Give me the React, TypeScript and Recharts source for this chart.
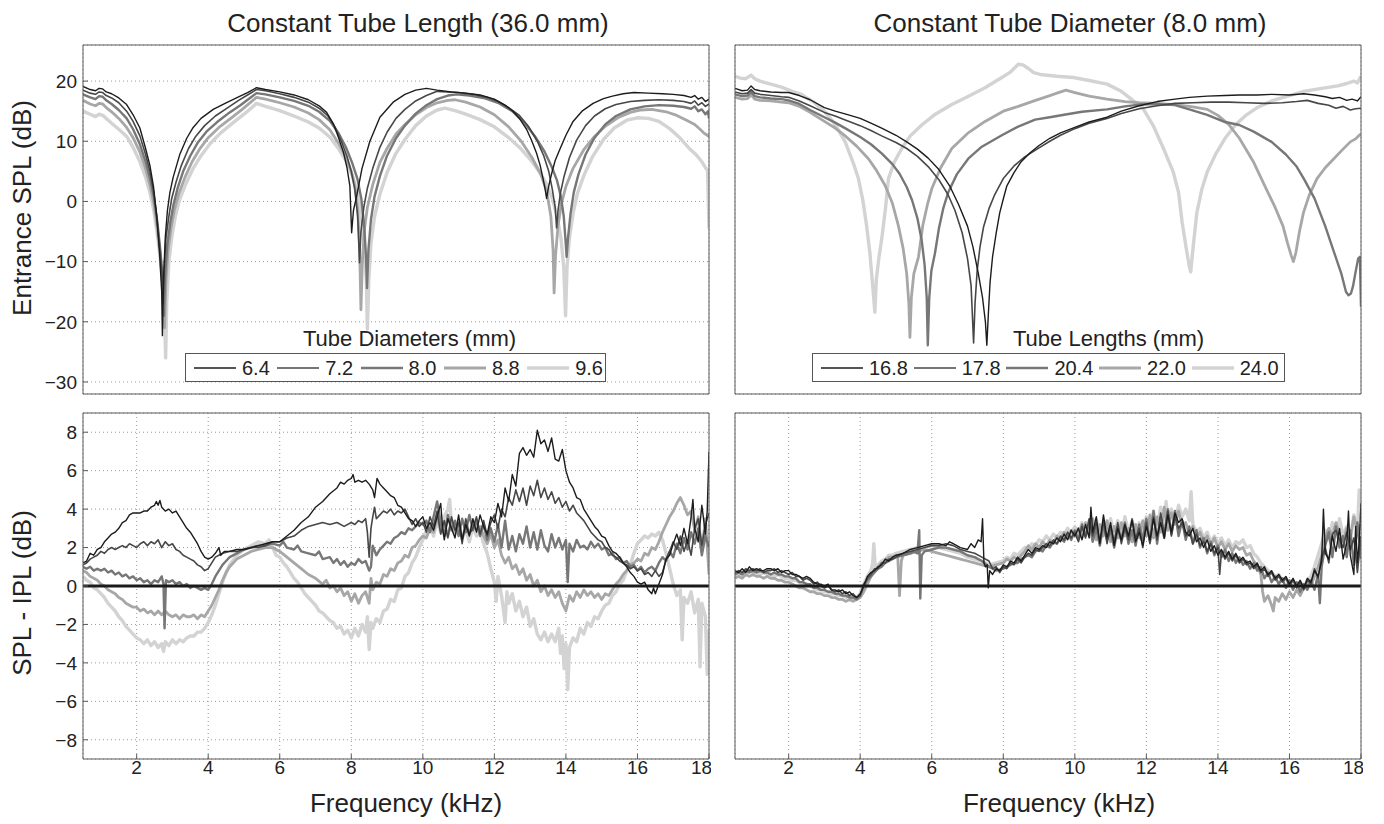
import React from "react";
import { LineChart, Line, XAxis, YAxis, CartesianGrid, ReferenceLine } from "recharts";

type Pt = [number, number];

// axis ticks
const freqTicks = [2, 4, 6, 8, 10, 12, 14, 16, 18];
const splTicks = [-30, -20, -10, 0, 10, 20];
const diffTicks = [-8, -6, -4, -2, 0, 2, 4, 6, 8];

// legend entries
const diameterLabels = ["6.4", "7.2", "8.0", "8.8", "9.6"];
const lengthLabels = ["16.8", "17.8", "20.4", "22.0", "24.0"];

// series styles, darkest to lightest
const lineColors = ["#1c1c1c", "#474747", "#777777", "#a7a7a7", "#d3d3d3"];
const lineWidths = [1.4, 1.6, 2.4, 2.8, 3.4];

// ---- entrance SPL, constant tube length (36.0 mm) ----
const dia64Spl: Pt[] = [[0.5,19.1],[0.7,18.6],[0.85,18.4],[0.95,18.8],[1.05,18.7],[1.15,18.2],[1.3,17.9],[1.5,17.2],[1.72,16.1],[1.9,14.4],[2.09,12.2],[2.25,8.8],[2.37,6.0],[2.47,2.5],[2.56,-2.4],[2.64,-8.5],[2.7,-15],[2.72,-22.3],[2.75,-13],[2.8,-6],[2.86,-1.5],[2.93,1.5],[3.02,4.0],[3.21,7.9],[3.4,10.5],[3.58,12.3],[3.8,13.8],[4.14,15.3],[4.5,16.4],[4.79,17.2],[5.1,18.1],[5.35,18.9],[5.6,18.6],[6.0,18.2],[6.4,17.7],[6.8,16.9],[7.1,15.9],[7.31,14.8],[7.5,12.9],[7.65,10.5],[7.78,8.2],[7.88,5.6],[7.96,2.6],[8.01,-5.2],[8.06,-1.5],[8.15,0.9],[8.3,5.5],[8.52,10.0],[8.8,14.0],[9.17,16.5],[9.5,17.8],[9.8,18.5],[10.1,18.8],[10.4,18.5],[10.8,18.2],[11.2,18.0],[11.6,17.7],[12.0,17.0],[12.3,16.0],[12.52,15.0],[12.7,13.8],[12.9,12.0],[13.05,10.0],[13.18,8.0],[13.28,6.0],[13.36,3.8],[13.42,2.0],[13.46,0.5],[13.52,2.6],[13.6,4.6],[13.7,6.8],[13.84,8.8],[14.0,11.0],[14.2,13.3],[14.45,15.0],[14.76,16.3],[15.05,17.1],[15.3,17.5],[15.6,17.9],[15.9,18.1],[16.3,18.0],[16.7,17.9],[17.0,17.8],[17.3,17.6],[17.5,17.3],[17.6,17.6],[17.7,17.0],[17.8,17.3],[17.9,16.6],[18.0,17.0]];
const dia72Spl: Pt[] = [[0.5,18.5],[0.7,18.0],[0.85,17.8],[0.95,18.2],[1.05,18.1],[1.15,17.6],[1.3,17.2],[1.5,16.4],[1.72,15.0],[1.9,13.3],[2.09,10.9],[2.25,7.8],[2.37,5.0],[2.47,1.8],[2.57,-3.0],[2.65,-8],[2.71,-12],[2.74,-17],[2.77,-11],[2.82,-6],[2.9,-2.5],[2.98,0.5],[3.1,3.2],[3.25,6.0],[3.45,8.8],[3.65,10.8],[3.9,12.6],[4.2,14.2],[4.55,15.6],[4.85,16.8],[5.1,17.7],[5.35,18.6],[5.6,18.4],[6.0,17.9],[6.4,17.3],[6.8,16.5],[7.1,15.5],[7.35,14.2],[7.55,12.3],[7.72,10.0],[7.88,7.5],[8.0,5.0],[8.1,2.0],[8.18,-2.5],[8.23,-10.2],[8.27,-5],[8.35,-1.0],[8.45,2.2],[8.6,5.5],[8.8,9.0],[9.0,11.5],[9.25,13.8],[9.5,15.3],[9.8,16.7],[10.1,17.6],[10.4,18.3],[10.7,18.2],[11.0,18.1],[11.4,17.8],[11.8,17.3],[12.1,16.6],[12.4,15.6],[12.7,14.3],[12.95,12.5],[13.2,10.0],[13.38,7.6],[13.52,5.0],[13.62,2.0],[13.7,-1.0],[13.74,-4.4],[13.78,-1.5],[13.85,1.5],[13.95,4.2],[14.1,7.3],[14.3,10.2],[14.55,12.6],[14.8,14.2],[15.1,15.4],[15.4,16.1],[15.8,16.6],[16.2,16.8],[16.6,16.9],[17.0,16.8],[17.3,16.6],[17.5,16.3],[17.6,16.7],[17.7,16.0],[17.8,16.4],[17.9,15.8],[18.0,16.2]];
const dia80Spl: Pt[] = [[0.5,17.8],[0.7,17.3],[0.85,17.0],[0.95,17.5],[1.05,17.4],[1.15,16.8],[1.3,16.2],[1.5,15.2],[1.72,13.8],[1.9,12.0],[2.09,9.5],[2.25,6.6],[2.37,4.0],[2.48,0.8],[2.58,-3.5],[2.66,-8],[2.72,-12.5],[2.76,-19],[2.8,-12],[2.86,-7],[2.94,-3.5],[3.03,-0.5],[3.15,2.3],[3.3,5.0],[3.5,7.6],[3.7,9.7],[3.95,11.6],[4.25,13.2],[4.6,14.8],[4.9,16.0],[5.15,17.1],[5.35,18.0],[5.6,17.8],[6.0,17.3],[6.4,16.7],[6.8,15.9],[7.1,14.9],[7.4,13.4],[7.65,11.3],[7.85,9.0],[8.02,6.5],[8.17,3.8],[8.28,0.5],[8.36,-4],[8.41,-9],[8.44,-14.4],[8.48,-8],[8.55,-3],[8.65,0.8],[8.8,4.2],[9.0,7.6],[9.25,10.5],[9.5,12.6],[9.8,14.6],[10.1,16.0],[10.4,17.0],[10.7,17.6],[10.95,17.8],[11.3,17.6],[11.7,17.2],[12.1,16.4],[12.5,15.0],[12.85,13.0],[13.15,10.7],[13.4,8.3],[13.6,5.8],[13.75,3.5],[13.86,0.8],[13.94,-2.5],[13.99,-6.5],[14.02,-9.2],[14.06,-6],[14.13,-2],[14.22,1.5],[14.35,4.5],[14.55,7.8],[14.8,10.6],[15.1,12.8],[15.4,14.2],[15.8,15.3],[16.2,15.8],[16.6,16.0],[17.0,15.9],[17.3,15.7],[17.5,15.4],[17.6,15.8],[17.7,15.0],[17.8,15.3],[17.9,14.5],[17.97,15.0],[18.0,13.8]];
const dia88Spl: Pt[] = [[0.5,16.8],[0.7,16.2],[0.85,15.9],[0.95,16.3],[1.05,16.2],[1.15,15.6],[1.3,14.9],[1.5,13.8],[1.72,12.3],[1.9,10.6],[2.09,8.2],[2.25,5.4],[2.37,2.8],[2.48,-0.3],[2.58,-4.5],[2.66,-9],[2.73,-14],[2.78,-21],[2.82,-13],[2.88,-8],[2.96,-4.5],[3.05,-1.5],[3.18,1.3],[3.35,4.0],[3.55,6.6],[3.75,8.6],[4.0,10.6],[4.3,12.3],[4.65,13.9],[4.95,15.3],[5.15,16.3],[5.35,17.3],[5.6,17.0],[6.0,16.4],[6.4,15.7],[6.8,14.7],[7.1,13.6],[7.4,11.9],[7.65,9.6],[7.85,7.3],[8.0,5.0],[8.1,2.5],[8.18,-1.5],[8.23,-7],[8.27,-18],[8.31,-10],[8.37,-4.5],[8.45,-1],[8.6,2.8],[8.8,6.5],[9.0,8.8],[9.25,11.2],[9.5,12.8],[9.8,14.4],[10.1,15.6],[10.4,16.4],[10.7,16.8],[10.9,16.9],[11.2,16.5],[11.6,15.7],[12.0,14.4],[12.4,12.4],[12.75,10.0],[13.05,7.3],[13.3,4.5],[13.47,1.5],[13.58,-2.5],[13.64,-8],[13.67,-15.2],[13.71,-9],[13.78,-4],[13.87,-0.5],[14.0,2.5],[14.2,5.5],[14.5,8.6],[14.8,10.8],[15.1,12.5],[15.45,13.9],[15.8,14.8],[16.1,15.2],[16.4,15.3],[16.8,14.9],[17.1,14.3],[17.4,13.4],[17.6,12.8],[17.75,12.0],[17.85,11.4],[17.95,11.0],[18.0,10.8]];
const dia96Spl: Pt[] = [[0.5,15.0],[0.7,14.5],[0.85,14.1],[0.95,14.5],[1.05,14.3],[1.15,13.8],[1.3,13.0],[1.5,12.0],[1.72,10.8],[1.9,9.0],[2.09,6.6],[2.25,4.0],[2.37,1.5],[2.48,-1.5],[2.58,-5.5],[2.67,-10],[2.75,-15],[2.79,-21],[2.81,-26],[2.84,-17],[2.9,-10],[2.98,-6],[3.08,-2.5],[3.2,0.3],[3.38,3.0],[3.58,5.5],[3.8,7.6],[4.05,9.6],[4.35,11.4],[4.7,13.1],[5.0,14.5],[5.2,15.5],[5.35,16.3],[5.6,15.8],[6.0,15.1],[6.4,14.2],[6.8,13.2],[7.1,12.2],[7.4,10.7],[7.65,8.7],[7.88,6.5],[8.05,4.0],[8.18,1.2],[8.28,-2.5],[8.36,-7],[8.42,-13],[8.45,-21.2],[8.49,-13],[8.55,-7],[8.65,-2.5],[8.8,1.2],[9.0,4.8],[9.25,8.0],[9.5,10.3],[9.8,12.6],[10.1,14.2],[10.4,15.2],[10.62,15.5],[10.9,15.1],[11.2,14.5],[11.6,13.6],[12.0,12.4],[12.4,10.6],[12.75,8.7],[13.0,7.0],[13.25,5.0],[13.45,3.0],[13.62,0.5],[13.75,-2.5],[13.86,-6],[13.94,-11],[13.99,-19],[14.03,-11],[14.1,-6],[14.2,-2],[14.32,1.3],[14.5,4.3],[14.75,7.5],[15.05,10.3],[15.35,12.2],[15.7,13.5],[16.0,13.9],[16.3,13.8],[16.6,13.3],[16.9,12.1],[17.2,10.5],[17.45,8.8],[17.65,7.7],[17.8,6.6],[17.9,5.6],[17.96,5.2],[18.0,-4.5]];

// ---- entrance SPL, constant tube diameter (8.0 mm) ----
const len168Spl: Pt[] = [[0.5,18.8],[0.7,18.4],[0.85,18.5],[0.95,19.2],[1.05,18.6],[1.2,18.4],[1.5,18.2],[1.8,18.1],[2.0,18.1],[2.3,17.6],[2.6,16.9],[3.0,15.6],[3.3,15.0],[3.6,14.5],[4.0,13.8],[4.3,13.0],[4.6,12.2],[5.0,11.0],[5.3,9.9],[5.6,8.7],[5.9,7.2],[6.2,5.3],[6.5,2.6],[6.75,-0.5],[7.0,-4.1],[7.15,-7.5],[7.3,-11.9],[7.42,-16],[7.5,-20],[7.54,-23.9],[7.58,-19],[7.63,-13.5],[7.7,-9.2],[7.8,-5.3],[7.9,-1.9],[8.0,0.4],[8.1,2.6],[8.3,4.8],[8.5,6.6],[8.75,8.1],[9.0,9.3],[9.3,10.5],[9.6,11.4],[10.0,12.3],[10.4,13.2],[10.9,14.0],[11.3,15.0],[11.8,15.9],[12.3,16.6],[12.8,17.0],[13.2,17.3],[13.7,17.5],[14.2,17.6],[14.6,17.7],[15.1,17.7],[15.5,17.8],[16.0,17.7],[16.4,17.9],[16.7,17.7],[17.0,17.4],[17.2,17.1],[17.4,17.3],[17.6,16.8],[17.75,17.0],[17.9,16.7],[18.0,17.4]];
const len178Spl: Pt[] = [[0.5,18.2],[0.7,17.9],[0.85,18.0],[0.95,18.6],[1.05,18.0],[1.2,17.8],[1.5,17.6],[1.8,17.4],[2.0,17.3],[2.3,16.7],[2.6,15.9],[3.0,14.8],[3.3,14.2],[3.6,13.5],[4.0,12.6],[4.3,11.8],[4.6,10.9],[5.0,9.8],[5.3,8.8],[5.6,7.5],[5.9,5.8],[6.2,3.6],[6.45,1.2],[6.65,-1.5],[6.85,-5.2],[7.0,-9.5],[7.1,-14],[7.17,-23.5],[7.21,-17],[7.27,-11.5],[7.35,-7.5],[7.45,-4.2],[7.6,-1.2],[7.75,1.0],[8.0,3.8],[8.3,5.9],[8.6,7.4],[9.0,8.9],[9.3,10.0],[9.6,11.0],[10.0,12.1],[10.4,13.0],[10.9,13.8],[11.3,14.6],[11.8,15.4],[12.3,15.9],[12.8,16.3],[13.3,16.4],[13.8,16.5],[14.3,16.5],[14.8,16.4],[15.3,16.3],[15.8,16.4],[16.2,16.6],[16.5,16.8],[16.8,16.3],[17.1,16.0],[17.3,15.5],[17.5,15.8],[17.7,15.2],[17.85,15.4],[18.0,15.5]];
const len204Spl: Pt[] = [[0.5,17.8],[0.7,17.5],[0.85,17.6],[0.95,18.2],[1.05,17.5],[1.2,17.3],[1.5,17.1],[1.8,17.0],[2.0,16.8],[2.3,16.2],[2.6,15.2],[3.0,14.0],[3.3,13.1],[3.6,12.1],[4.0,10.7],[4.3,9.5],[4.6,8.0],[4.9,6.2],[5.1,4.6],[5.3,2.4],[5.45,0.2],[5.6,-2.8],[5.72,-6.5],[5.8,-10.5],[5.86,-16],[5.89,-23.9],[5.93,-16],[5.99,-11.5],[6.09,-8.6],[6.2,-4.5],[6.32,-1.2],[6.46,1.5],[6.7,4.5],[7.02,7.1],[7.4,9.1],[7.96,11.0],[8.4,12.4],[8.89,13.6],[9.3,14.0],[9.7,14.4],[10.2,14.9],[10.9,15.3],[11.4,15.8],[11.8,16.1],[12.3,16.2],[12.8,16.0],[13.2,15.3],[13.7,14.4],[14.2,13.2],[14.6,12.7],[15.0,11.6],[15.5,9.9],[15.9,7.8],[16.2,5.8],[16.4,3.8],[16.7,0.5],[17.0,-4.1],[17.25,-8.5],[17.45,-12.0],[17.58,-15.0],[17.65,-15.6],[17.72,-15.3],[17.78,-14],[17.84,-12.0],[17.92,-9.5],[17.97,-9.2],[18.0,-17.5]];
const len220Spl: Pt[] = [[0.5,17.3],[0.7,17.0],[0.85,17.1],[0.95,17.7],[1.05,17.0],[1.2,16.8],[1.5,16.7],[1.8,16.5],[2.0,16.4],[2.3,15.8],[2.6,14.8],[3.0,13.3],[3.3,12.2],[3.6,10.8],[3.9,9.2],[4.23,7.1],[4.45,5.2],[4.7,2.6],[4.9,-0.3],[5.07,-4.1],[5.2,-7.8],[5.3,-12.0],[5.36,-17],[5.39,-22.6],[5.43,-16],[5.5,-12],[5.63,-9.2],[5.75,-4],[5.88,-0.5],[6.0,2.1],[6.25,5.6],[6.56,8.8],[7.0,11.3],[7.49,13.3],[8.0,15.0],[8.42,15.8],[8.9,16.8],[9.26,17.5],[9.5,18.0],[9.75,18.5],[10.0,18.1],[10.4,17.5],[10.9,17.0],[11.4,16.6],[11.8,16.4],[12.3,16.3],[12.8,16.1],[13.3,15.7],[13.7,15.3],[14.0,14.3],[14.3,12.8],[14.6,10.5],[15.0,6.5],[15.35,2.1],[15.6,-1.0],[15.82,-4.1],[15.95,-7],[16.05,-9],[16.11,-10.0],[16.18,-8.5],[16.28,-5],[16.39,-1.9],[16.55,1.0],[16.77,3.8],[17.0,5.6],[17.24,7.1],[17.45,8.4],[17.7,9.9],[17.85,10.4],[17.95,11.0],[18.0,11.2]];
const len240Spl: Pt[] = [[0.5,20.8],[0.65,20.5],[0.8,20.4],[0.95,21.0],[1.05,20.4],[1.2,20.0],[1.5,19.5],[1.8,19.0],[2.1,18.3],[2.36,17.8],[2.7,16.5],[3.0,15.0],[3.3,12.8],[3.58,9.9],[3.8,6.5],[3.95,3.8],[4.08,0.0],[4.18,-4.1],[4.27,-8.5],[4.32,-12.0],[4.37,-15.5],[4.41,-18.4],[4.45,-13],[4.52,-9.5],[4.6,-6.3],[4.7,-1.5],[4.79,3.8],[4.95,6.5],[5.16,8.8],[5.4,10.9],[5.72,12.7],[6.1,14.5],[6.56,16.1],[7.0,17.4],[7.49,18.9],[7.96,20.6],[8.2,21.5],[8.42,22.8],[8.55,22.7],[8.7,22.1],[8.85,21.4],[9.03,21.1],[9.5,20.8],[9.96,20.6],[10.4,20.1],[10.9,19.5],[11.3,18.3],[11.9,15.5],[12.2,12.5],[12.5,8.5],[12.75,4.9],[12.9,1.5],[13.0,-3.5],[13.12,-8],[13.2,-10.8],[13.24,-11.7],[13.3,-8],[13.41,-1.9],[13.55,2.0],[13.7,4.9],[13.95,8.0],[14.2,10.5],[14.5,12.8],[14.8,14.4],[15.1,15.6],[15.5,16.7],[16.0,17.6],[16.4,18.3],[16.9,18.8],[17.35,19.2],[17.6,19.6],[17.8,20.0],[17.9,19.7],[17.97,20.5],[18.0,20.8]];

// ---- SPL - IPL, constant tube length ----
const dia64Diff: Pt[] = [[0.5,1.2],[0.6,1.3],[0.7,1.7],[0.8,1.6],[0.9,1.9],[1.0,2.0],[1.1,2.3],[1.2,2.5],[1.3,2.7],[1.4,2.8],[1.5,3.0],[1.6,3.3],[1.7,3.4],[1.8,3.7],[1.9,3.8],[2.0,3.8],[2.1,3.8],[2.2,3.9],[2.3,3.9],[2.4,4.1],[2.5,4.2],[2.55,4.4],[2.6,4.2],[2.65,4.45],[2.7,4.1],[2.8,3.9],[2.9,4.0],[3.0,3.8],[3.1,3.9],[3.2,3.6],[3.3,3.3],[3.4,3.0],[3.5,2.8],[3.6,2.5],[3.7,2.2],[3.8,1.8],[3.9,1.5],[4.0,1.4],[4.1,1.5],[4.2,1.7],[4.3,2.0],[4.35,1.6],[4.45,1.8],[4.6,1.8],[4.8,1.9],[5.0,1.9],[5.2,2.0],[5.4,2.1],[5.6,2.2],[5.8,2.3],[6.0,2.3],[6.2,2.6],[6.4,2.9],[6.6,3.3],[6.8,3.6],[7.0,4.1],[7.2,4.4],[7.4,4.8],[7.6,5.1],[7.7,5.4],[7.8,5.3],[7.9,5.5],[8.0,5.6],[8.05,5.8],[8.1,5.4],[8.2,5.5],[8.3,5.4],[8.4,5.5],[8.5,5.3],[8.6,5.0],[8.65,4.6],[8.72,5.6],[8.8,5.3],[8.9,5.1],[9.0,4.9],[9.1,4.7],[9.2,4.6],[9.3,4.2],[9.4,4.1],[9.5,3.8],[9.6,3.5],[9.7,3.4],[9.8,3.1],[9.9,3.4],[10.0,3.6],[10.1,3.0],[10.2,3.3],[10.3,2.9],[10.4,3.6],[10.5,4.3],[10.55,3.1],[10.6,2.4],[10.7,3.5],[10.8,3.0],[10.9,2.5],[11.0,3.7],[11.1,2.4],[11.2,3.2],[11.3,2.6],[11.4,3.5],[11.5,2.8],[11.6,3.7],[11.7,3.1],[11.8,2.7],[11.9,3.6],[12.0,3.3],[12.1,4.3],[12.2,3.6],[12.3,5.1],[12.4,4.4],[12.5,5.8],[12.6,5.2],[12.7,6.9],[12.8,7.2],[12.9,6.8],[13.0,7.1],[13.1,6.7],[13.2,8.1],[13.3,7.4],[13.4,7.6],[13.5,7.0],[13.6,7.7],[13.7,6.6],[13.8,6.5],[13.9,7.1],[14.0,6.0],[14.1,5.4],[14.2,5.1],[14.3,4.6],[14.4,4.5],[14.5,4.0],[14.6,3.7],[14.7,3.4],[14.8,3.1],[14.9,2.9],[15.0,2.6],[15.1,2.5],[15.2,2.1],[15.3,1.8],[15.4,1.7],[15.5,1.5],[15.6,1.2],[15.7,1.0],[15.8,0.7],[15.9,0.5],[16.0,0.2],[16.1,0.1],[16.2,0.2],[16.3,-0.2],[16.4,-0.4],[16.45,-0.1],[16.5,-0.4],[16.6,0.1],[16.7,0.6],[16.8,1.4],[16.9,1.6],[17.0,2.2],[17.1,2.7],[17.2,2.1],[17.3,3.0],[17.4,2.2],[17.5,3.6],[17.55,4.5],[17.6,3.0],[17.7,2.3],[17.8,4.2],[17.9,2.7],[17.95,3.9],[18.0,7.0]];
const dia72Diff: Pt[] = [[0.5,1.1],[0.6,1.2],[0.7,1.4],[0.8,1.5],[0.9,1.6],[1.0,1.8],[1.1,1.7],[1.2,1.9],[1.3,2.0],[1.4,1.9],[1.5,2.0],[1.6,2.1],[1.7,2.0],[1.8,2.2],[1.9,2.1],[2.0,2.0],[2.1,2.2],[2.2,2.3],[2.3,2.1],[2.4,2.3],[2.5,2.2],[2.6,2.4],[2.7,2.0],[2.8,2.3],[2.9,2.1],[3.0,2.2],[3.1,1.9],[3.2,1.8],[3.3,1.6],[3.4,1.5],[3.5,1.4],[3.6,1.3],[3.7,1.1],[3.8,1.0],[3.9,0.8],[4.0,0.9],[4.1,1.2],[4.2,1.5],[4.3,1.6],[4.4,1.7],[4.6,1.8],[4.8,1.8],[5.0,1.9],[5.2,2.0],[5.4,2.0],[5.6,2.1],[5.8,2.3],[6.0,2.3],[6.2,2.5],[6.4,2.6],[6.6,2.9],[6.8,3.1],[7.0,3.2],[7.2,3.3],[7.4,3.2],[7.6,3.3],[7.8,3.1],[8.0,3.3],[8.1,3.2],[8.2,3.4],[8.3,3.3],[8.4,3.5],[8.45,2.8],[8.5,1.5],[8.55,3.0],[8.6,3.6],[8.65,4.1],[8.7,3.5],[8.8,3.7],[8.9,3.9],[9.0,3.8],[9.1,4.0],[9.2,3.7],[9.3,3.9],[9.4,3.8],[9.5,4.0],[9.6,3.6],[9.7,3.2],[9.8,3.5],[9.9,3.1],[10.0,3.3],[10.1,2.8],[10.2,3.6],[10.3,3.1],[10.4,3.9],[10.5,2.7],[10.6,3.4],[10.7,2.5],[10.8,3.6],[10.9,2.9],[11.0,3.3],[11.1,2.2],[11.2,3.5],[11.3,2.7],[11.4,3.0],[11.5,3.6],[11.6,2.7],[11.7,3.4],[11.8,2.6],[11.9,3.3],[12.0,3.7],[12.1,3.0],[12.2,4.0],[12.3,3.6],[12.4,4.6],[12.5,4.2],[12.6,5.0],[12.7,4.4],[12.8,5.1],[12.9,4.2],[13.0,5.2],[13.1,4.7],[13.2,5.5],[13.3,4.6],[13.4,5.1],[13.5,4.5],[13.6,4.9],[13.7,4.3],[13.8,4.6],[13.9,4.1],[14.0,4.4],[14.1,3.9],[14.2,4.2],[14.3,3.8],[14.4,3.6],[14.5,3.4],[14.6,3.1],[14.7,2.8],[14.8,2.6],[14.9,2.4],[15.0,2.3],[15.1,2.0],[15.2,1.9],[15.3,1.6],[15.4,1.5],[15.5,1.3],[15.6,1.2],[15.7,1.1],[15.8,0.9],[15.9,1.0],[16.0,0.8],[16.1,0.9],[16.2,0.6],[16.3,0.7],[16.4,0.5],[16.5,0.8],[16.6,0.5],[16.7,0.7],[16.8,1.4],[16.9,1.8],[17.0,2.3],[17.1,1.9],[17.2,2.6],[17.3,1.8],[17.4,2.4],[17.5,1.6],[17.6,3.0],[17.7,3.5],[17.8,2.1],[17.9,3.2],[18.0,3.8]];
const dia80Diff: Pt[] = [[0.5,1.0],[0.6,0.9],[0.7,1.0],[0.8,0.8],[0.9,0.9],[1.0,0.8],[1.1,0.9],[1.2,0.7],[1.3,0.8],[1.4,0.6],[1.5,0.7],[1.6,0.5],[1.7,0.6],[1.8,0.4],[1.9,0.5],[2.0,0.3],[2.1,0.4],[2.2,0.2],[2.3,0.3],[2.4,0.1],[2.5,0.3],[2.6,0.2],[2.7,0.5],[2.75,0.1],[2.78,-2.2],[2.82,0.3],[2.9,0.2],[3.0,0.3],[3.1,0.1],[3.2,0.2],[3.3,0.0],[3.4,0.1],[3.5,-0.1],[3.6,0.0],[3.7,-0.1],[3.8,-0.2],[3.9,-0.1],[4.0,-0.2],[4.1,0.1],[4.2,0.5],[4.3,0.8],[4.4,1.1],[4.5,1.3],[4.6,1.5],[4.8,1.7],[5.0,1.9],[5.2,2.0],[5.4,2.1],[5.6,2.1],[5.8,2.2],[6.0,2.1],[6.1,2.3],[6.2,2.0],[6.4,1.9],[6.5,2.1],[6.6,1.8],[6.8,1.7],[7.0,1.6],[7.1,1.8],[7.2,1.4],[7.4,1.5],[7.5,1.2],[7.6,1.4],[7.7,1.1],[7.8,1.3],[7.9,1.0],[8.0,1.2],[8.1,1.1],[8.2,1.4],[8.3,1.2],[8.4,1.3],[8.5,0.8],[8.55,1.0],[8.6,2.1],[8.7,1.6],[8.8,1.9],[8.9,2.1],[9.0,2.3],[9.1,2.2],[9.2,2.5],[9.3,2.6],[9.4,2.8],[9.5,2.7],[9.6,3.0],[9.7,2.9],[9.8,3.1],[9.9,3.3],[10.0,3.2],[10.1,3.4],[10.2,2.8],[10.3,3.6],[10.4,4.4],[10.5,3.3],[10.6,2.6],[10.7,3.7],[10.8,2.9],[10.9,3.4],[11.0,2.6],[11.1,3.5],[11.2,2.8],[11.3,3.7],[11.4,2.9],[11.5,3.4],[11.6,2.6],[11.7,3.2],[11.8,2.4],[11.9,3.0],[12.0,2.3],[12.1,3.2],[12.2,2.0],[12.3,3.4],[12.4,1.9],[12.5,2.6],[12.6,1.8],[12.7,2.7],[12.8,2.2],[12.9,3.1],[13.0,2.0],[13.1,2.8],[13.2,1.9],[13.3,2.9],[13.4,2.1],[13.5,1.8],[13.6,2.7],[13.7,2.0],[13.8,2.5],[13.9,1.9],[14.0,2.4],[14.05,0.2],[14.1,2.2],[14.2,1.8],[14.3,2.4],[14.4,2.0],[14.5,2.1],[14.6,1.9],[14.7,2.3],[14.8,2.0],[14.9,2.2],[15.0,1.9],[15.1,2.0],[15.2,1.6],[15.3,1.7],[15.4,1.4],[15.5,1.5],[15.6,1.2],[15.7,1.3],[15.8,1.0],[15.9,1.1],[16.0,0.8],[16.1,1.0],[16.2,0.7],[16.3,0.9],[16.4,1.0],[16.5,0.8],[16.6,1.2],[16.7,1.5],[16.8,1.3],[16.9,1.8],[17.0,1.5],[17.1,2.2],[17.2,1.7],[17.3,2.5],[17.4,1.9],[17.5,2.8],[17.6,2.2],[17.7,3.0],[17.8,1.6],[17.9,2.6],[18.0,2.0]];
const dia88Diff: Pt[] = [[0.5,0.8],[0.6,0.7],[0.7,0.5],[0.8,0.4],[0.9,0.3],[1.0,0.1],[1.1,0.0],[1.2,-0.2],[1.3,-0.3],[1.4,-0.4],[1.5,-0.6],[1.6,-0.7],[1.7,-0.9],[1.8,-1.0],[1.9,-1.1],[2.0,-1.1],[2.1,-1.3],[2.2,-1.2],[2.3,-1.4],[2.4,-1.3],[2.5,-1.5],[2.6,-1.3],[2.7,-1.5],[2.8,-1.3],[2.9,-1.5],[3.0,-1.6],[3.1,-1.5],[3.2,-1.7],[3.3,-1.5],[3.4,-1.6],[3.5,-1.6],[3.6,-1.5],[3.7,-1.7],[3.8,-1.5],[3.9,-1.6],[4.0,-1.3],[4.1,-1.0],[4.2,-0.6],[4.3,-0.2],[4.4,0.3],[4.5,0.7],[4.6,1.0],[4.8,1.4],[5.0,1.6],[5.2,1.8],[5.4,1.9],[5.6,2.0],[5.8,2.0],[6.0,1.8],[6.2,1.5],[6.4,1.2],[6.6,0.9],[6.8,0.6],[7.0,0.4],[7.2,0.1],[7.3,0.3],[7.4,-0.1],[7.5,0.0],[7.6,-0.3],[7.7,-0.1],[7.8,-0.5],[7.9,-0.3],[8.0,-0.8],[8.1,-0.4],[8.2,-0.9],[8.3,-0.5],[8.4,-0.3],[8.5,-0.9],[8.55,0.4],[8.6,-0.2],[8.7,0.2],[8.8,0.1],[8.9,0.6],[9.0,0.5],[9.1,0.9],[9.2,0.8],[9.3,1.2],[9.4,1.3],[9.5,1.6],[9.6,1.5],[9.7,2.0],[9.8,2.1],[9.9,2.4],[10.0,2.6],[10.1,2.5],[10.2,3.0],[10.3,2.8],[10.4,3.6],[10.5,2.9],[10.6,3.3],[10.7,2.6],[10.8,3.4],[10.9,2.8],[11.0,3.2],[11.1,2.5],[11.2,3.0],[11.3,2.7],[11.4,3.3],[11.5,2.9],[11.6,3.1],[11.7,2.6],[11.8,2.2],[11.9,2.7],[12.0,2.0],[12.1,2.4],[12.2,1.6],[12.3,1.2],[12.4,1.5],[12.5,0.9],[12.6,1.1],[12.7,0.6],[12.8,0.9],[12.9,0.3],[13.0,0.6],[13.1,0.0],[13.2,0.3],[13.3,-0.3],[13.4,0.0],[13.5,-0.5],[13.6,-0.2],[13.7,-0.6],[13.8,-0.3],[13.9,-0.9],[14.0,-1.3],[14.1,-0.5],[14.2,-0.8],[14.3,-0.3],[14.4,-0.6],[14.5,-0.2],[14.6,-0.5],[14.7,-0.3],[14.8,-0.6],[14.9,-0.4],[15.0,-0.7],[15.1,-0.4],[15.2,-0.5],[15.3,-0.2],[15.4,0.1],[15.5,0.3],[15.6,0.6],[15.7,0.8],[15.8,1.1],[15.9,1.2],[16.0,1.4],[16.1,1.3],[16.2,1.7],[16.3,1.6],[16.4,2.0],[16.5,1.9],[16.6,2.3],[16.7,2.8],[16.8,3.2],[16.9,3.6],[17.0,3.9],[17.1,4.3],[17.2,4.6],[17.3,4.2],[17.4,3.7],[17.5,3.9],[17.6,2.9],[17.7,3.6],[17.8,1.8],[17.9,3.5],[18.0,0.6]];
const dia96Diff: Pt[] = [[0.5,0.5],[0.6,0.3],[0.7,0.2],[0.8,-0.1],[0.9,-0.2],[1.0,-0.4],[1.1,-0.6],[1.2,-0.9],[1.3,-1.1],[1.4,-1.3],[1.5,-1.6],[1.6,-1.8],[1.7,-2.1],[1.8,-2.3],[1.9,-2.5],[2.0,-2.7],[2.1,-2.8],[2.2,-3.0],[2.3,-2.8],[2.4,-3.1],[2.5,-2.9],[2.6,-3.2],[2.7,-3.0],[2.75,-3.4],[2.8,-2.9],[2.9,-3.1],[3.0,-2.8],[3.1,-3.0],[3.2,-2.8],[3.3,-2.9],[3.4,-2.7],[3.5,-2.6],[3.6,-2.6],[3.7,-2.4],[3.8,-2.4],[3.9,-2.2],[4.0,-1.9],[4.1,-1.5],[4.2,-1.0],[4.3,-0.4],[4.4,0.2],[4.5,0.7],[4.6,1.1],[4.8,1.6],[5.0,1.9],[5.2,2.1],[5.4,2.3],[5.6,2.2],[5.7,2.4],[5.8,2.0],[5.9,1.6],[6.0,1.5],[6.1,1.2],[6.2,1.0],[6.3,0.7],[6.4,0.4],[6.5,0.2],[6.6,-0.1],[6.7,-0.4],[6.8,-0.6],[6.9,-0.8],[7.0,-1.0],[7.1,-1.3],[7.2,-1.4],[7.3,-1.6],[7.4,-1.8],[7.5,-1.9],[7.6,-2.2],[7.7,-2.1],[7.8,-2.5],[7.9,-2.3],[8.0,-2.7],[8.1,-2.2],[8.2,-2.6],[8.3,-2.0],[8.4,-2.4],[8.45,-1.6],[8.5,-3.3],[8.55,-1.9],[8.6,-2.2],[8.7,-1.7],[8.8,-1.9],[8.9,-1.3],[9.0,-1.2],[9.1,-0.7],[9.2,-0.8],[9.3,-0.2],[9.4,-0.1],[9.5,0.5],[9.6,0.7],[9.7,1.2],[9.8,1.5],[9.9,2.0],[10.0,2.4],[10.1,2.9],[10.2,3.2],[10.3,2.6],[10.4,3.4],[10.5,2.8],[10.6,3.6],[10.7,4.0],[10.75,4.5],[10.8,3.2],[10.9,2.7],[11.0,3.3],[11.1,2.5],[11.2,2.9],[11.3,2.3],[11.4,3.1],[11.5,2.6],[11.6,2.9],[11.7,2.2],[11.8,1.7],[11.9,0.9],[12.0,0.2],[12.05,-0.8],[12.1,0.5],[12.2,-0.5],[12.3,-1.9],[12.35,-0.3],[12.4,-0.9],[12.5,-0.4],[12.6,-1.3],[12.7,-0.8],[12.8,-1.6],[12.9,-1.1],[13.0,-2.1],[13.1,-1.7],[13.2,-2.5],[13.3,-2.8],[13.4,-2.4],[13.5,-2.9],[13.6,-2.5],[13.7,-2.9],[13.8,-2.2],[13.85,-3.5],[13.9,-2.6],[13.95,-4.3],[14.0,-3.0],[14.05,-5.4],[14.1,-3.2],[14.2,-2.7],[14.3,-2.9],[14.4,-2.2],[14.5,-2.5],[14.6,-1.9],[14.7,-2.1],[14.8,-1.6],[14.9,-1.7],[15.0,-1.3],[15.1,-1.0],[15.2,-0.9],[15.3,-0.5],[15.4,-0.3],[15.5,0.1],[15.6,0.3],[15.7,0.8],[15.8,1.1],[15.9,1.7],[16.0,2.2],[16.1,2.4],[16.2,2.6],[16.3,2.5],[16.4,2.7],[16.5,2.6],[16.6,2.8],[16.7,2.4],[16.8,1.7],[16.9,0.9],[17.0,0.1],[17.1,-0.5],[17.2,-0.2],[17.25,-2.8],[17.3,-0.6],[17.4,-0.9],[17.5,-0.3],[17.6,-1.4],[17.7,-0.7],[17.75,-4.2],[17.8,-0.9],[17.9,-1.6],[17.95,-4.6],[18.0,-2.3]];

// ---- SPL - IPL, constant tube diameter ----
const len168Diff: Pt[] = [[0.5,0.8],[0.6,0.7],[0.7,0.9],[0.8,0.7],[0.9,1.0],[1.0,0.8],[1.1,0.9],[1.2,0.8],[1.3,0.8],[1.4,0.9],[1.5,0.9],[1.6,0.8],[1.7,0.9],[1.8,0.7],[1.9,0.8],[2.0,0.8],[2.1,0.6],[2.2,0.6],[2.3,0.5],[2.4,0.4],[2.5,0.5],[2.6,0.4],[2.7,0.2],[2.8,0.1],[2.9,0.1],[3.0,0.0],[3.1,0.1],[3.2,-0.2],[3.3,-0.2],[3.4,-0.3],[3.5,-0.2],[3.6,-0.4],[3.7,-0.3],[3.8,-0.5],[3.9,-0.6],[4.0,-0.4],[4.1,0.0],[4.2,0.5],[4.3,0.7],[4.4,0.8],[4.5,1.0],[4.6,1.1],[4.7,1.4],[4.8,1.3],[4.9,1.5],[5.0,1.6],[5.2,1.7],[5.4,1.9],[5.6,2.0],[5.8,2.1],[6.0,2.2],[6.2,2.2],[6.4,2.1],[6.5,2.3],[6.6,2.2],[6.8,2.0],[7.0,1.9],[7.1,2.2],[7.2,2.0],[7.3,2.4],[7.38,2.3],[7.42,3.5],[7.46,1.2],[7.5,1.0],[7.55,1.1],[7.58,-0.1],[7.62,0.8],[7.7,0.6],[7.8,0.9],[7.9,0.8],[8.0,1.1],[8.1,1.0],[8.2,1.3],[8.3,1.2],[8.4,1.5],[8.5,1.3],[8.6,1.6],[8.7,1.9],[8.8,1.7],[8.9,2.0],[9.0,1.9],[9.1,2.1],[9.2,2.0],[9.3,2.3],[9.4,2.2],[9.5,2.5],[9.6,2.3],[9.7,2.7],[9.8,2.4],[9.9,2.9],[10.0,2.6],[10.1,3.0],[10.2,2.4],[10.3,3.2],[10.4,2.5],[10.45,4.1],[10.5,2.8],[10.6,3.6],[10.7,2.2],[10.8,3.7],[10.9,2.5],[11.0,3.3],[11.1,2.1],[11.2,3.0],[11.3,2.4],[11.4,3.2],[11.5,2.6],[11.6,3.4],[11.7,2.3],[11.8,2.8],[11.9,2.1],[12.0,3.1],[12.1,2.4],[12.2,3.5],[12.3,2.6],[12.4,3.3],[12.5,2.5],[12.6,3.7],[12.7,2.8],[12.8,3.8],[12.9,3.3],[13.0,3.5],[13.1,2.8],[13.2,2.6],[13.3,3.0],[13.4,2.3],[13.5,2.5],[13.6,2.0],[13.7,2.4],[13.8,1.8],[13.9,2.1],[14.0,1.6],[14.1,1.9],[14.2,1.5],[14.3,1.8],[14.4,1.4],[14.5,1.7],[14.6,1.3],[14.7,1.5],[14.8,1.2],[14.9,1.3],[15.0,1.0],[15.1,1.2],[15.2,0.8],[15.3,1.0],[15.4,0.6],[15.5,0.8],[15.6,0.4],[15.7,0.6],[15.8,0.3],[15.9,0.5],[16.0,0.1],[16.1,0.4],[16.2,0.0],[16.3,0.3],[16.4,-0.1],[16.5,0.4],[16.6,0.2],[16.7,0.8],[16.8,0.5],[16.9,1.3],[16.95,4.0],[17.0,1.7],[17.1,1.4],[17.2,2.6],[17.3,1.8],[17.4,3.0],[17.5,1.4],[17.6,2.2],[17.65,3.9],[17.7,1.6],[17.8,0.6],[17.85,3.1],[17.9,1.2],[17.95,2.3],[18.0,4.3]];
const len178Diff: Pt[] = [[0.5,0.7],[0.6,0.8],[0.7,0.7],[0.8,0.9],[0.9,0.8],[1.0,0.9],[1.1,0.8],[1.2,0.9],[1.3,0.7],[1.4,0.8],[1.5,0.8],[1.6,0.9],[1.7,0.7],[1.8,0.8],[1.9,0.7],[2.0,0.6],[2.1,0.7],[2.2,0.5],[2.3,0.5],[2.4,0.3],[2.5,0.4],[2.6,0.3],[2.7,0.1],[2.8,0.2],[2.9,0.0],[3.0,-0.1],[3.1,0.0],[3.2,-0.2],[3.3,-0.3],[3.4,-0.2],[3.5,-0.4],[3.6,-0.3],[3.7,-0.5],[3.8,-0.4],[3.9,-0.6],[4.0,-0.5],[4.1,0.1],[4.2,0.4],[4.3,0.6],[4.4,0.9],[4.5,0.9],[4.6,1.2],[4.7,1.2],[4.8,1.4],[4.9,1.4],[5.0,1.5],[5.2,1.7],[5.4,1.8],[5.6,1.9],[5.8,2.0],[6.0,2.1],[6.2,2.1],[6.4,2.2],[6.6,2.1],[6.8,1.9],[7.0,1.8],[7.2,1.7],[7.4,1.5],[7.6,1.3],[7.7,0.9],[7.8,1.0],[7.9,0.7],[8.0,1.0],[8.1,0.9],[8.2,1.2],[8.3,1.1],[8.4,1.4],[8.5,1.2],[8.6,1.5],[8.7,1.7],[8.8,1.6],[8.9,1.9],[9.0,1.8],[9.1,2.0],[9.2,2.2],[9.3,2.1],[9.4,2.4],[9.5,2.2],[9.6,2.6],[9.7,2.4],[9.8,2.8],[9.9,2.5],[10.0,2.8],[10.1,2.3],[10.2,3.1],[10.3,2.5],[10.4,3.5],[10.5,2.6],[10.6,3.3],[10.7,2.3],[10.8,3.4],[10.9,2.2],[11.0,3.1],[11.1,2.3],[11.2,3.3],[11.3,2.2],[11.4,3.0],[11.5,2.4],[11.6,3.5],[11.7,2.5],[11.8,3.0],[11.9,2.0],[12.0,3.3],[12.1,2.2],[12.2,3.6],[12.3,2.4],[12.4,3.8],[12.5,2.7],[12.6,3.9],[12.7,2.6],[12.8,3.6],[12.9,3.0],[13.0,3.3],[13.1,2.6],[13.2,2.9],[13.3,2.2],[13.4,2.7],[13.5,2.1],[13.6,2.3],[13.7,1.8],[13.8,2.2],[13.9,1.7],[14.0,2.0],[14.05,0.6],[14.1,1.8],[14.2,1.4],[14.3,1.7],[14.4,1.3],[14.5,1.6],[14.6,1.2],[14.7,1.4],[14.8,1.1],[14.9,1.2],[15.0,0.9],[15.1,1.1],[15.2,0.7],[15.3,0.9],[15.4,0.5],[15.5,0.7],[15.6,0.3],[15.7,0.5],[15.8,0.2],[15.9,0.4],[16.0,0.0],[16.1,0.3],[16.2,-0.1],[16.3,0.2],[16.4,-0.2],[16.5,0.3],[16.6,0.1],[16.7,0.9],[16.8,0.4],[16.9,1.5],[17.0,2.0],[17.1,1.2],[17.2,2.7],[17.3,2.9],[17.4,2.4],[17.5,2.0],[17.6,2.8],[17.7,1.9],[17.8,2.5],[17.9,0.7],[18.0,2.6]];
const len204Diff: Pt[] = [[0.5,0.6],[0.6,0.7],[0.7,0.6],[0.8,0.8],[0.9,0.7],[1.0,0.8],[1.1,0.7],[1.2,0.8],[1.3,0.7],[1.4,0.7],[1.5,0.6],[1.6,0.7],[1.7,0.6],[1.8,0.6],[1.9,0.5],[2.0,0.5],[2.1,0.4],[2.2,0.4],[2.3,0.2],[2.4,0.2],[2.5,0.1],[2.6,0.1],[2.7,-0.1],[2.8,-0.1],[2.9,-0.2],[3.0,-0.2],[3.1,-0.3],[3.2,-0.3],[3.3,-0.4],[3.4,-0.4],[3.5,-0.5],[3.6,-0.5],[3.7,-0.6],[3.8,-0.6],[3.9,-0.7],[4.0,-0.5],[4.1,0.0],[4.2,0.3],[4.3,0.5],[4.4,0.7],[4.5,0.9],[4.6,1.0],[4.7,1.2],[4.8,1.3],[4.9,1.4],[5.0,1.5],[5.2,1.6],[5.4,1.7],[5.5,1.8],[5.6,1.7],[5.65,2.9],[5.68,-0.65],[5.72,1.6],[5.8,1.8],[6.0,1.9],[6.2,2.0],[6.4,2.0],[6.6,1.9],[6.8,1.8],[7.0,1.6],[7.2,1.5],[7.4,1.3],[7.6,1.0],[7.8,0.8],[8.0,0.9],[8.1,1.0],[8.2,1.1],[8.3,1.2],[8.4,1.2],[8.5,1.4],[8.6,1.5],[8.7,1.6],[8.8,1.5],[8.9,1.8],[9.0,1.9],[9.1,1.8],[9.2,2.1],[9.3,2.0],[9.4,2.3],[9.5,2.2],[9.6,2.5],[9.7,2.3],[9.8,2.7],[9.9,2.4],[10.0,2.9],[10.1,2.4],[10.2,3.2],[10.3,2.6],[10.4,3.3],[10.5,2.3],[10.6,3.0],[10.7,2.1],[10.8,3.2],[10.9,2.4],[11.0,2.9],[11.1,2.0],[11.2,3.0],[11.3,2.4],[11.4,3.3],[11.5,2.2],[11.6,2.9],[11.7,2.1],[11.8,3.2],[11.9,2.4],[12.0,3.5],[12.1,2.3],[12.2,3.9],[12.3,2.2],[12.4,3.6],[12.5,2.5],[12.6,4.0],[12.7,2.7],[12.8,3.9],[12.9,2.6],[13.0,3.4],[13.1,2.4],[13.2,3.1],[13.3,2.2],[13.4,2.9],[13.5,2.0],[13.6,2.5],[13.7,1.7],[13.8,2.3],[13.9,1.6],[14.0,2.1],[14.1,1.5],[14.2,1.9],[14.3,1.3],[14.4,1.7],[14.5,1.2],[14.6,1.5],[14.7,1.1],[14.8,1.3],[14.9,0.9],[15.0,1.2],[15.1,0.8],[15.2,1.0],[15.3,0.4],[15.4,0.7],[15.5,0.2],[15.6,0.5],[15.7,0.1],[15.8,0.4],[15.9,-0.1],[16.0,0.3],[16.1,-0.2],[16.2,0.2],[16.3,-0.3],[16.4,0.1],[16.5,-0.2],[16.6,0.3],[16.7,-0.2],[16.8,0.6],[16.85,-0.9],[16.9,1.0],[17.0,2.1],[17.1,2.8],[17.2,1.5],[17.3,3.1],[17.4,2.0],[17.5,2.6],[17.6,1.5],[17.7,2.9],[17.8,1.1],[17.9,3.3],[18.0,1.4]];
const len220Diff: Pt[] = [[0.5,0.4],[0.6,0.5],[0.7,0.4],[0.8,0.6],[0.9,0.5],[1.0,0.6],[1.1,0.5],[1.2,0.5],[1.3,0.4],[1.4,0.5],[1.5,0.4],[1.6,0.4],[1.7,0.3],[1.8,0.3],[1.9,0.2],[2.0,0.2],[2.1,0.1],[2.2,0.0],[2.3,-0.1],[2.4,-0.1],[2.5,-0.2],[2.6,-0.3],[2.7,-0.3],[2.8,-0.4],[2.9,-0.4],[3.0,-0.5],[3.1,-0.5],[3.2,-0.6],[3.3,-0.6],[3.4,-0.7],[3.5,-0.7],[3.6,-0.8],[3.7,-0.7],[3.8,-0.8],[3.9,-0.7],[4.0,-0.6],[4.1,-0.3],[4.2,0.1],[4.3,0.5],[4.4,0.8],[4.5,1.0],[4.6,1.2],[4.7,1.3],[4.8,1.5],[4.9,1.5],[5.0,1.6],[5.05,1.5],[5.1,-0.5],[5.15,1.3],[5.2,1.6],[5.4,1.7],[5.6,1.8],[5.8,1.9],[6.0,1.8],[6.2,1.7],[6.4,1.6],[6.6,1.5],[6.8,1.4],[7.0,1.3],[7.2,1.2],[7.4,1.1],[7.6,1.0],[7.8,1.1],[8.0,1.2],[8.1,1.4],[8.2,1.3],[8.3,1.5],[8.4,1.4],[8.5,1.6],[8.6,1.8],[8.7,2.1],[8.8,1.9],[8.9,2.2],[9.0,2.0],[9.1,2.3],[9.2,2.1],[9.3,2.4],[9.4,2.2],[9.5,2.6],[9.6,2.4],[9.7,2.8],[9.8,2.5],[9.9,2.9],[10.0,2.6],[10.1,3.0],[10.2,2.5],[10.3,3.3],[10.4,2.7],[10.5,3.5],[10.6,2.4],[10.7,3.2],[10.8,2.6],[10.9,3.4],[11.0,2.3],[11.1,3.1],[11.2,2.5],[11.3,3.3],[11.4,2.6],[11.5,3.0],[11.6,2.3],[11.7,3.2],[11.8,2.5],[11.9,3.4],[12.0,2.6],[12.1,3.7],[12.2,2.5],[12.3,3.6],[12.4,2.8],[12.5,4.1],[12.6,2.9],[12.7,3.8],[12.8,3.2],[12.9,3.9],[13.0,3.1],[13.1,3.3],[13.2,2.7],[13.3,3.1],[13.4,2.5],[13.5,2.8],[13.6,2.3],[13.7,2.6],[13.8,2.1],[13.9,2.5],[14.0,2.0],[14.1,2.3],[14.2,1.9],[14.3,2.2],[14.4,1.8],[14.5,2.1],[14.6,1.9],[14.7,2.0],[14.8,1.6],[14.9,1.7],[15.0,1.3],[15.1,1.1],[15.2,0.6],[15.25,-0.3],[15.3,-0.8],[15.4,-0.5],[15.5,-1.0],[15.55,-1.3],[15.6,-0.6],[15.7,-0.8],[15.8,-0.4],[15.9,-0.7],[16.0,-0.3],[16.1,-0.6],[16.2,-0.2],[16.3,-0.5],[16.4,-0.1],[16.5,0.2],[16.6,0.0],[16.7,0.5],[16.8,1.0],[16.9,1.6],[17.0,2.5],[17.1,3.0],[17.2,2.6],[17.3,3.3],[17.4,2.7],[17.5,2.2],[17.6,3.0],[17.7,2.5],[17.8,3.6],[17.9,2.8],[18.0,3.2]];
const len240Diff: Pt[] = [[0.5,0.6],[0.6,0.5],[0.7,0.7],[0.8,0.6],[0.9,0.8],[1.0,0.7],[1.1,0.7],[1.2,0.6],[1.3,0.7],[1.4,0.6],[1.5,0.6],[1.6,0.5],[1.7,0.6],[1.8,0.5],[1.9,0.4],[2.0,0.4],[2.1,0.3],[2.2,0.3],[2.3,0.2],[2.4,0.1],[2.5,0.1],[2.6,0.0],[2.7,-0.1],[2.8,-0.2],[2.9,-0.2],[3.0,-0.3],[3.1,-0.3],[3.2,-0.4],[3.3,-0.4],[3.4,-0.5],[3.5,-0.5],[3.6,-0.6],[3.7,-0.5],[3.8,-0.7],[3.9,-0.6],[4.0,-0.4],[4.1,0.1],[4.2,0.5],[4.3,0.8],[4.35,1.2],[4.38,2.2],[4.42,1.0],[4.5,1.1],[4.6,1.3],[4.7,1.4],[4.8,1.6],[4.9,1.6],[5.0,1.7],[5.2,1.8],[5.4,1.9],[5.6,2.0],[5.8,2.0],[6.0,2.1],[6.2,2.0],[6.4,1.9],[6.6,1.8],[6.8,1.7],[7.0,1.5],[7.2,1.4],[7.4,1.3],[7.6,1.1],[7.8,1.2],[8.0,1.3],[8.1,1.5],[8.2,1.4],[8.3,1.7],[8.4,1.6],[8.5,1.8],[8.6,2.0],[8.7,1.9],[8.8,2.2],[8.9,2.1],[9.0,2.4],[9.1,2.3],[9.2,2.6],[9.3,2.4],[9.4,2.7],[9.5,2.5],[9.6,2.8],[9.7,2.6],[9.8,3.0],[9.9,2.7],[10.0,3.1],[10.1,2.6],[10.2,3.3],[10.3,2.8],[10.4,3.4],[10.5,2.6],[10.6,3.5],[10.7,2.5],[10.8,3.3],[10.9,2.7],[11.0,3.5],[11.1,2.6],[11.2,3.4],[11.3,2.5],[11.4,3.6],[11.5,2.8],[11.6,3.4],[11.7,2.6],[11.8,3.3],[11.9,2.7],[12.0,3.6],[12.1,2.9],[12.2,3.9],[12.3,3.0],[12.4,4.1],[12.5,3.2],[12.55,4.4],[12.6,3.4],[12.7,4.0],[12.8,3.3],[12.9,4.2],[13.0,3.6],[13.1,4.0],[13.2,3.4],[13.25,4.9],[13.3,3.2],[13.4,2.8],[13.5,3.0],[13.6,2.5],[13.7,2.8],[13.8,2.3],[13.9,2.6],[14.0,2.2],[14.1,2.5],[14.2,2.1],[14.3,2.4],[14.4,2.0],[14.5,2.3],[14.6,2.2],[14.7,2.4],[14.8,2.0],[14.9,2.1],[15.0,1.7],[15.1,1.5],[15.2,1.2],[15.3,1.0],[15.4,0.8],[15.5,0.7],[15.6,0.5],[15.7,0.6],[15.8,0.3],[15.9,0.4],[16.0,0.1],[16.1,0.3],[16.2,0.0],[16.3,0.2],[16.4,-0.1],[16.5,0.3],[16.6,0.5],[16.7,1.0],[16.8,1.6],[16.9,2.2],[17.0,2.9],[17.1,2.4],[17.2,3.3],[17.3,2.7],[17.4,3.5],[17.5,2.6],[17.6,3.1],[17.7,2.4],[17.8,3.7],[17.9,2.9],[17.95,5.0],[18.0,3.5]];

const toPts = (a: Pt[]) => a.map(([f, v]) => ({ f, v }));

const PLOT_W = 626;
const AXIS = "#5a5a5a";
const FONT = "'Liberation Sans', Arial, Helvetica, sans-serif";
const fmt = (v: number) => String(v).replace("-", "\u2212");

interface PanelProps {
    left: number;
    top: number;
    height: number;
    domain: [number, number];
    yTicks: number[];
    showX: boolean;
    showY: boolean;
    series: Pt[][];
    zero?: boolean;
}

function Panel({ left, top, height, domain, yTicks, showX, showY, series, zero }: PanelProps) {
    const yw = showY ? 70 : 20;
    const xh = 40;
    const tickStyle = { fill: "#222", fontSize: 19 };
    // lightest trace first so the dark ones sit on top
    const order = [4, 3, 2, 1, 0];
    return (
        <div style={{ position: "absolute", left: left - yw, top: top - 2 }}>
            <LineChart width={yw + PLOT_W + 2} height={height + 2 + xh} margin={{ top: 1, right: 1, bottom: 0, left: 0 }}>
                <CartesianGrid stroke="#9a9a9a" strokeDasharray="1 3" />
                <XAxis type="number" dataKey="f" domain={[0.5, 18]} ticks={freqTicks} allowDataOverflow
                    height={xh} tickSize={-5} tickMargin={7} stroke={AXIS}
                    tick={showX ? tickStyle : false} tickFormatter={fmt} />
                <XAxis xAxisId="top" orientation="top" type="number" dataKey="f" domain={[0.5, 18]}
                    ticks={freqTicks} allowDataOverflow height={1} tickSize={-5} tick={false} stroke={AXIS} />
                <YAxis type="number" domain={domain} ticks={yTicks} allowDataOverflow width={yw}
                    tickSize={-5} tickMargin={11} stroke={AXIS}
                    tick={showY ? tickStyle : false} tickFormatter={fmt} />
                <YAxis yAxisId="right" orientation="right" type="number" domain={domain} ticks={yTicks}
                    allowDataOverflow width={1} tickSize={-5} tick={false} stroke={AXIS} />
                {order.map((i) => (
                    <Line key={i} data={toPts(series[i])} dataKey="v" type="linear" dot={false}
                        stroke={lineColors[i]} strokeWidth={lineWidths[i]} strokeLinejoin="round"
                        isAnimationActive={false} />
                ))}
                {zero && <ReferenceLine y={0} stroke="#1a1a1a" strokeWidth={3} />}
            </LineChart>
        </div>
    );
}

interface LegendProps {
    left: number;
    width: number;
    step: number;
    title: string;
    titleLeft: number;
    labels: string[];
}

function LegendBox({ left, width, step, title, titleLeft, labels }: LegendProps) {
    return (
        <>
            <div style={{ position: "absolute", left: titleLeft, top: 328, fontSize: 22, lineHeight: "22px", color: "#222", whiteSpace: "nowrap" }}>
                {title}
            </div>
            <div style={{ position: "absolute", left, top: 353, width, height: 29, boxSizing: "border-box", border: "1px solid #555", background: "#fff", display: "flex", alignItems: "center", paddingLeft: 8 }}>
                {labels.map((lab, i) => (
                    <div key={lab} style={{ width: step, display: "flex", alignItems: "center", flexShrink: 0 }}>
                        <svg width={42} height={10} style={{ display: "block" }}>
                            <line x1={0} x2={42} y1={5} y2={5} stroke={lineColors[i]} strokeWidth={lineWidths[i]} />
                        </svg>
                        <span style={{ marginLeft: 6, fontSize: 20, lineHeight: "20px", color: "#222" }}>{lab}</span>
                    </div>
                ))}
            </div>
        </>
    );
}

function Text({ x, y, w, size, children }: { x: number; y: number; w: number; size: number; children: string }) {
    return (
        <div style={{ position: "absolute", left: x - w / 2, top: y, width: w, textAlign: "center", fontSize: size, lineHeight: `${size}px`, color: "#222", whiteSpace: "nowrap" }}>
            {children}
        </div>
    );
}

function VText({ cx, cy, children }: { cx: number; cy: number; children: string }) {
    return (
        <div style={{ position: "absolute", left: cx - 150, top: cy - 13, width: 300, height: 26, textAlign: "center", fontSize: 26, lineHeight: "26px", color: "#222", transform: "rotate(-90deg)", whiteSpace: "nowrap" }}>
            {children}
        </div>
    );
}

export default function App() {
    return (
        <div style={{ position: "absolute", left: 0, top: 0, width: 1384, height: 824, background: "#fff", fontFamily: FONT, overflow: "hidden" }}>
            <Text x={418} y={10} w={600} size={26}>Constant Tube Length (36.0 mm)</Text>
            <Text x={1070} y={10} w={600} size={26}>Constant Tube Diameter (8.0 mm)</Text>

            <Panel left={83} top={45} height={349} domain={[-32, 26]} yTicks={splTicks} showX={false} showY
                series={[dia64Spl, dia72Spl, dia80Spl, dia88Spl, dia96Spl]} />
            <Panel left={735} top={45} height={349} domain={[-32, 26]} yTicks={splTicks} showX={false} showY={false}
                series={[len168Spl, len178Spl, len204Spl, len220Spl, len240Spl]} />
            <Panel left={83} top={413} height={346} domain={[-9, 9]} yTicks={diffTicks} showX showY zero
                series={[dia64Diff, dia72Diff, dia80Diff, dia88Diff, dia96Diff]} />
            <Panel left={735} top={413} height={346} domain={[-9, 9]} yTicks={diffTicks} showX showY={false} zero
                series={[len168Diff, len178Diff, len204Diff, len220Diff, len240Diff]} />

            <LegendBox left={185} width={421} step={83.3} title="Tube Diameters (mm)" titleLeft={303} labels={diameterLabels} />
            <LegendBox left={812} width={473} step={92.7} title="Tube Lengths (mm)" titleLeft={1013} labels={lengthLabels} />

            <VText cx={22} cy={208}>Entrance SPL (dB)</VText>
            <VText cx={22} cy={593}>SPL - IPL (dB)</VText>
            <Text x={406} y={790} w={400} size={26}>Frequency (kHz)</Text>
            <Text x={1059} y={790} w={400} size={26}>Frequency (kHz)</Text>
        </div>
    );
}
